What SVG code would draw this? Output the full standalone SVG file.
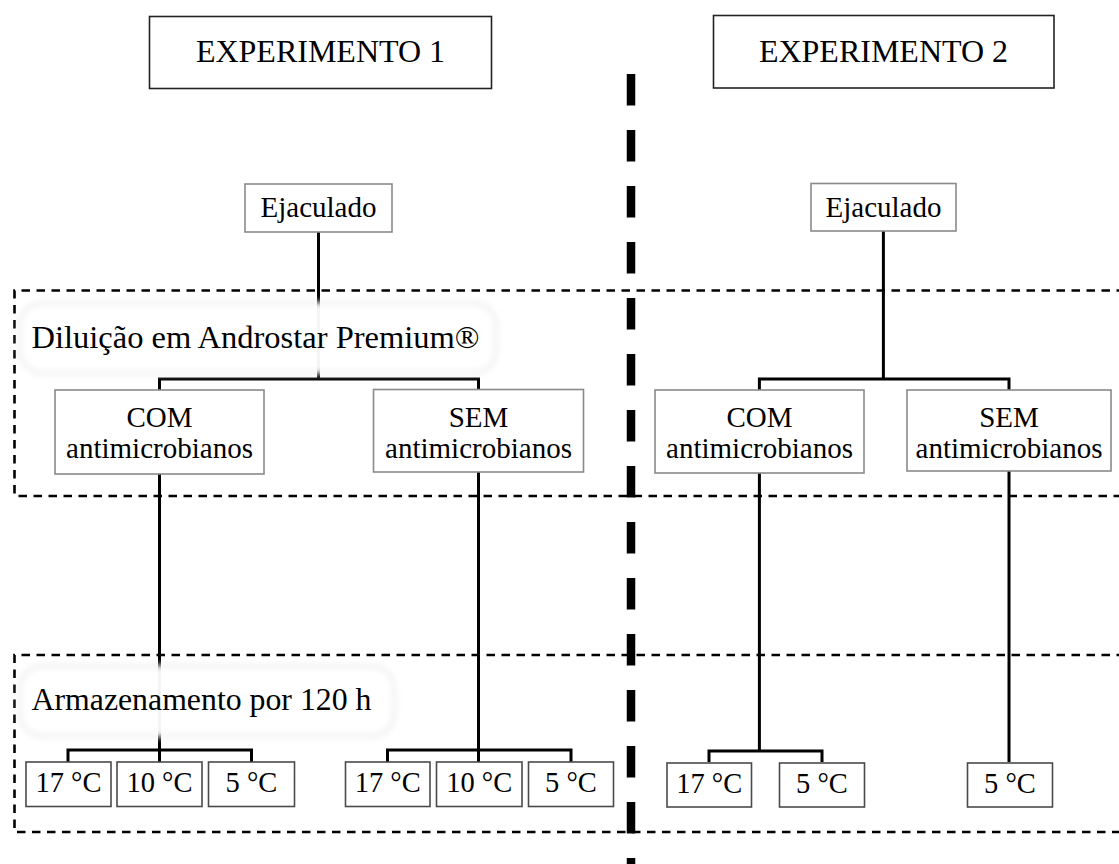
<svg xmlns="http://www.w3.org/2000/svg" width="1119" height="864" viewBox="0 0 1119 864">
  <style>
    text { font-family: "Liberation Serif", "Times New Roman", serif; fill: #000; }
    .title { font-size: 32px; text-anchor: middle; }
    .node { font-size: 29px; text-anchor: middle; }
    .temp { font-size: 28.5px; text-anchor: middle; }
    .label { font-size: 32.5px; }
    .box-title { fill: #fff; stroke: #222; stroke-width: 1.6; }
    .box { fill: #fff; stroke: #8a8a8a; stroke-width: 1.6; }
    .box-temp { fill: #fff; stroke: #4a4a4a; stroke-width: 1.6; }
    .region { fill: none; stroke: #000; stroke-width: 2.6; stroke-dasharray: 8.5 6.5; }
    .link { fill: none; stroke: #000; stroke-width: 3; }
    .divider { stroke: #000; stroke-width: 8.5; stroke-dasharray: 31.5 24.5; }
    .halo { fill: #fff; fill-opacity: 0.96; stroke: #e6e6e6; stroke-width: 2.5; filter: url(#soft); }
  </style>
  <defs>
    <filter id="soft" x="-10%" y="-40%" width="120%" height="180%">
      <feGaussianBlur stdDeviation="3.2"/>
    </filter>
  </defs>

  <rect width="1119" height="864" fill="#fff"/>

  <!-- stage regions (open on the right edge) -->
  <g id="regions">
    <path class="region" d="M1125 290.5 H14.5 V496 H1125"/>
    <path class="region" d="M1125 655 H14.5 V832 H1125"/>
  </g>

  <!-- connectors -->
  <g id="connectors">
    <!-- Experimento 1 -->
    <path class="link" d="M318.5 232 V379"/>
    <path class="link" d="M159.5 390 V379 H478.5 V390"/>
    <path class="link" d="M159.5 474 V762"/>
    <path class="link" d="M68 762 V750 H251.5 V762"/>
    <path class="link" d="M478.5 472 V762"/>
    <path class="link" d="M387.5 762 V750 H571 V762"/>
    <!-- Experimento 2 -->
    <path class="link" d="M883.4 231 V379"/>
    <path class="link" d="M759.4 390 V379 H1009 V390"/>
    <path class="link" d="M759.4 473 V751"/>
    <path class="link" d="M709 762 V751 H822 V762"/>
    <path class="link" d="M1009 471 V762"/>
  </g>

  <!-- stage labels -->
  <g id="label-diluicao">
    <rect class="halo" x="20" y="303" width="476" height="70" rx="22"/>
    <text class="label" x="31.5" y="348">Diluição em Androstar Premium®</text>
  </g>
  <g id="label-armazenamento">
    <rect class="halo" x="20" y="666" width="374" height="70" rx="22"/>
    <text class="label" x="31.5" y="710" style="font-size:31.8px">Armazenamento por 120 h</text>
  </g>

  <!-- headers -->
  <g id="exp1">
    <rect class="box-title" x="149.5" y="16.5" width="342" height="72"/>
    <text class="title" x="320.5" y="62">EXPERIMENTO 1</text>
  </g>
  <g id="exp2">
    <rect class="box-title" x="713.5" y="15.5" width="340.5" height="72.5"/>
    <text class="title" x="883.5" y="62">EXPERIMENTO 2</text>
  </g>

  <!-- Experimento 1 nodes -->
  <g id="e1-ejaculado">
    <rect class="box" x="245" y="184" width="147" height="48"/>
    <text class="node" x="318.5" y="217">Ejaculado</text>
  </g>
  <g id="e1-com">
    <rect class="box" x="55" y="390" width="209" height="84"/>
    <text class="node" x="159.5" y="426.5">COM</text>
    <text class="node" x="159.5" y="457.5">antimicrobianos</text>
  </g>
  <g id="e1-sem">
    <rect class="box" x="373.5" y="389.5" width="210" height="82.5"/>
    <text class="node" x="478.5" y="426.5">SEM</text>
    <text class="node" x="478.5" y="457.5">antimicrobianos</text>
  </g>
  <g id="e1-com-17">
    <rect class="box-temp" x="26" y="762" width="85" height="44.5"/>
    <text class="temp" x="68.5" y="792">17 °C</text>
  </g>
  <g id="e1-com-10">
    <rect class="box-temp" x="117" y="762" width="85" height="44.5"/>
    <text class="temp" x="159.5" y="792">10 °C</text>
  </g>
  <g id="e1-com-5">
    <rect class="box-temp" x="208.5" y="762" width="86" height="44.5"/>
    <text class="temp" x="251.5" y="792">5 °C</text>
  </g>
  <g id="e1-sem-17">
    <rect class="box-temp" x="345.5" y="762" width="84.5" height="44.5"/>
    <text class="temp" x="387.7" y="792">17 °C</text>
  </g>
  <g id="e1-sem-10">
    <rect class="box-temp" x="436.5" y="762" width="85.5" height="44.5"/>
    <text class="temp" x="479.2" y="792">10 °C</text>
  </g>
  <g id="e1-sem-5">
    <rect class="box-temp" x="528.5" y="762" width="85" height="44.5"/>
    <text class="temp" x="571" y="792">5 °C</text>
  </g>

  <!-- Experimento 2 nodes -->
  <g id="e2-ejaculado">
    <rect class="box" x="811" y="183.5" width="145" height="47.5"/>
    <text class="node" x="883.5" y="216.5">Ejaculado</text>
  </g>
  <g id="e2-com">
    <rect class="box" x="655" y="390" width="209" height="83"/>
    <text class="node" x="759.5" y="426.5">COM</text>
    <text class="node" x="759.5" y="457.5">antimicrobianos</text>
  </g>
  <g id="e2-sem">
    <rect class="box" x="907" y="390" width="204" height="81"/>
    <text class="node" x="1009" y="426.5">SEM</text>
    <text class="node" x="1009" y="457.5">antimicrobianos</text>
  </g>
  <g id="e2-com-17">
    <rect class="box-temp" x="667" y="763" width="84.5" height="44"/>
    <text class="temp" x="709.2" y="793">17 °C</text>
  </g>
  <g id="e2-com-5">
    <rect class="box-temp" x="779.5" y="763" width="85" height="44"/>
    <text class="temp" x="822" y="793">5 °C</text>
  </g>
  <g id="e2-sem-5">
    <rect class="box-temp" x="967.5" y="763" width="85" height="44"/>
    <text class="temp" x="1010" y="793">5 °C</text>
  </g>

  <!-- divider between the two experiments -->
  <g id="divider">
    <line class="divider" x1="631" y1="74" x2="631" y2="864"/>
  </g>
</svg>
